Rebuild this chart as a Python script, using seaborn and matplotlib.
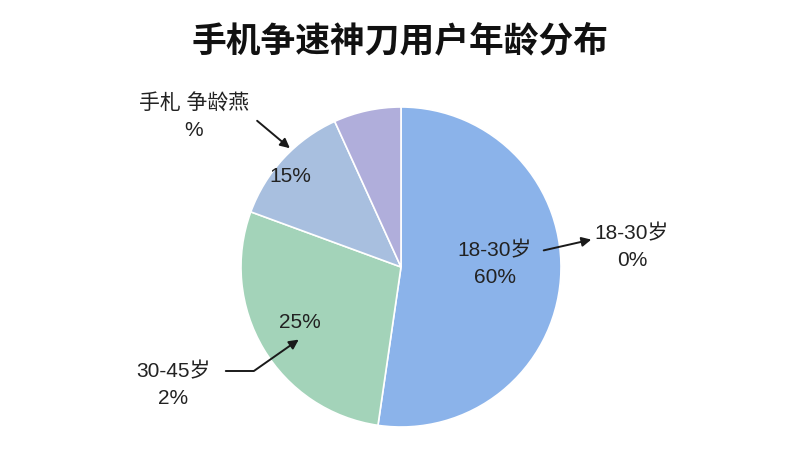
import matplotlib
matplotlib.use("Agg")
import matplotlib.pyplot as plt
import seaborn as sns

# slice sizes (clockwise from 12 o'clock)
segments = ["18-30岁", "30-45岁", "其他", "未知"]
shares = [52.3, 28.3, 12.6, 6.8]
colors = ["#8bb3ea", "#a3d3b9", "#a8bfdf", "#b0aedb"]

# text labels as printed on the chart
inner_labels = ["18-30岁\n60%", "25%", "15%", ""]
outer_labels = ["18-30岁\n0%", "30-45岁\n2%", "手札 争龄燕\n%", ""]
title = "手机争速神刀用户年龄分布"

sns.set_theme(style="white")
plt.rcParams['font.family'] = ['Liberation Sans', 'Noto Sans CJK SC', 'DejaVu Sans']

W, H = 800, 450
fig = plt.figure(figsize=(8, 4.5), dpi=100)
ax = fig.add_axes([0, 0, 1, 1])

cx, cy, r = 401, H - 267, 160
ax.pie(shares, colors=colors, startangle=90, counterclock=False,
       center=(cx, cy), radius=r, frame=True,
       wedgeprops=dict(edgecolor="white", linewidth=1.2))
ax.set_xlim(0, W)
ax.set_ylim(0, H)
ax.set_aspect("equal")
ax.axis("off")

txt = dict(fontsize=15, color="#222222", ha="center", va="center", linespacing=1.45)

# inner labels
ax.text(495, H - 264, inner_labels[0], **txt)
ax.text(300, H - 322, inner_labels[1], **txt)
ax.text(290, H - 177, inner_labels[2], **txt)

# outer labels with arrows
arrow = dict(arrowstyle="-|>", color="#1a1a1a", lw=1.4, mutation_scale=14)
ax.text(632, H - 247, outer_labels[0], **txt)
ax.annotate("", xy=(594, H - 239), xytext=(541, H - 251), arrowprops=arrow)

ax.text(173, H - 385, outer_labels[1], **txt)
ax.annotate("", xy=(301, H - 338), xytext=(223, H - 371),
            arrowprops=dict(arrow, connectionstyle="angle,angleA=0,angleB=-145,rad=0"))

ax.text(194, H - 117, outer_labels[2], **txt)
ax.annotate("", xy=(292, H - 150), xytext=(255, H - 119), arrowprops=arrow)

fig.text(0.5, 1 - 42 / H, title, ha="center", va="center",
         fontsize=25, fontweight="bold", color="#111111")

fig.savefig("out.png", dpi=100, facecolor="white")
